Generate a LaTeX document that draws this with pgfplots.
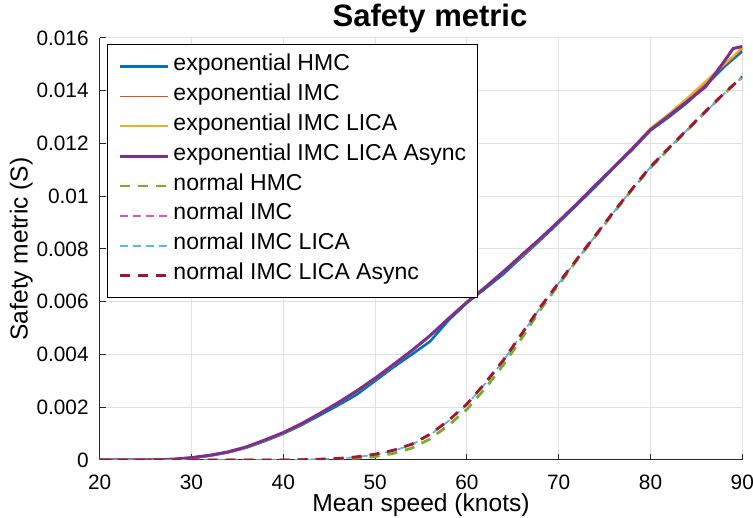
\documentclass[border=0pt]{standalone}
\usepackage{fontspec}
\setmainfont{Liberation Sans}
\usepackage{pgfplots}
\usepackage{pgfplotstable}
\pgfplotsset{compat=1.18}

\definecolor{mblue}{rgb}{0,0.447,0.741}
\definecolor{morange}{rgb}{0.85,0.325,0.098}
\definecolor{myellow}{rgb}{0.929,0.694,0.125}
\definecolor{mpurple}{rgb}{0.494,0.184,0.556}
\definecolor{mgreen}{rgb}{0.466,0.674,0.188}
\definecolor{mpink}{rgb}{0.86,0.36,0.62}
\definecolor{mcyan}{rgb}{0.301,0.745,0.933}
\definecolor{mred}{rgb}{0.635,0.078,0.184}

% exponential distribution runs
\pgfplotstableread{
x hmc imc lica async
20 0 0 0 0
22 0 0 0 0
24 0 0 0 0
26 0.00001 0.00001 0.00001 0.00001
28 0.00003 0.00003 0.00003 0.00003
30 0.00008 0.00008 0.00008 0.00009
32 0.00016 0.00017 0.00017 0.00018
34 0.00029 0.00030 0.00030 0.00031
36 0.00047 0.00048 0.00048 0.00050
38 0.00072 0.00074 0.00074 0.00076
40 0.00100 0.00102 0.00102 0.00104
42 0.00133 0.00136 0.00137 0.00138
44 0.00170 0.00175 0.00176 0.00177
46 0.00208 0.00215 0.00217 0.00218
48 0.00248 0.00258 0.00260 0.00262
50 0.00300 0.00306 0.00308 0.00310
52 0.00352 0.00358 0.00360 0.00362
54 0.00400 0.00412 0.00414 0.00415
56 0.00450 0.00470 0.00472 0.00472
58 0.00530 0.00538 0.00538 0.00536
60 0.00596 0.00600 0.00600 0.00598
62 0.00650 0.00653 0.00655 0.00655
64 0.00706 0.00712 0.00714 0.00715
66 0.00770 0.00772 0.00775 0.00778
68 0.00834 0.00836 0.00838 0.00840
70 0.00900 0.00902 0.00904 0.00905
72 0.00968 0.00970 0.00972 0.00972
74 0.01036 0.01040 0.01042 0.01042
76 0.01108 0.01110 0.01112 0.01110
78 0.01176 0.01180 0.01182 0.01180
80 0.01250 0.01255 0.01258 0.01252
82 0.01300 0.01308 0.01312 0.01305
84 0.01355 0.01365 0.01372 0.01360
86 0.01420 0.01430 0.01435 0.01415
88 0.01490 0.01495 0.01500 0.01510
89 0.01520 0.01525 0.01530 0.01560
90 0.01550 0.01560 0.01565 0.01568
}\expdata

% normal distribution runs
\pgfplotstableread{
x hmc imc lica async
20 0 0 0 0
24 0 0 0 0
28 0 0 0 0
32 0 0 0 0
36 0 0 0 0
40 0 0 0 0
42 0.00001 0.00001 0.00001 0.00001
44 0.00002 0.00003 0.00003 0.00003
46 0.00004 0.00006 0.00006 0.00006
48 0.00007 0.00011 0.00011 0.00012
50 0.00013 0.00020 0.00020 0.00022
52 0.00025 0.00035 0.00035 0.00037
54 0.00045 0.00058 0.00058 0.00060
56 0.00080 0.00095 0.00095 0.00098
58 0.00132 0.00148 0.00148 0.00150
60 0.00192 0.00210 0.00210 0.00212
62 0.00272 0.00290 0.00290 0.00292
64 0.00362 0.00378 0.00378 0.00380
66 0.00463 0.00478 0.00478 0.00480
68 0.00570 0.00578 0.00578 0.00580
70 0.00665 0.00670 0.00670 0.00672
72 0.00758 0.00760 0.00760 0.00762
74 0.00848 0.00850 0.00850 0.00852
76 0.00938 0.00940 0.00940 0.00942
78 0.01025 0.01028 0.01028 0.01028
80 0.01108 0.01110 0.01110 0.01112
82 0.01180 0.01182 0.01182 0.01183
84 0.01250 0.01252 0.01252 0.01253
86 0.01320 0.01320 0.01320 0.01322
88 0.01388 0.01388 0.01388 0.01390
90 0.01452 0.01452 0.01452 0.01453
}\normdata

\begin{document}
\begin{tikzpicture}
\begin{axis}[
    scale only axis,
    width=321.3pt, height=211pt,
    xmin=20, xmax=90, ymin=0, ymax=0.016,
    axis x line=bottom, axis y line=left,
    axis line style={-, line width=0.5pt, black!85},
    xtick={20,30,40,50,60,70,80,90},
    ytick={0,0.002,0.004,0.006,0.008,0.01,0.012,0.014,0.016},
    yticklabels={0,0.002,0.004,0.006,0.008,0.01,0.012,0.014,0.016},
    scaled y ticks=false,
    grid=major,
    grid style={line width=0.5pt, black!12},
    tick align=inside,
    major tick length=3pt,
    tick style={black!85, line width=0.5pt},
    /pgf/number format/assume math mode=true,
    tick label style={font=\fontsize{10.4}{12}\selectfont, inner sep=0pt},
    xticklabel style={anchor=base, yshift=-15pt},
    yticklabel style={anchor=east, xshift=-5.35pt},
    title={Safety metric},
    % the default title style already shifts it up by 6pt
    title style={font=\fontsize{15.5}{18}\selectfont\bfseries, at={(axis description cs:0.5,1)}, anchor=base, yshift=-0.35pt, xshift=4.5pt},
    xlabel={Mean speed (knots)},
    xlabel style={font=\fontsize{12.3}{14}\selectfont, at={(axis description cs:0.5,-0.122)}, anchor=base},
    ylabel={Safety metric (S)},
    ylabel style={font=\fontsize{12.3}{14}\selectfont, at={(axis description cs:-0.112,0.5)}, anchor=base},
    legend cell align=left,
    legend image code/.code={\draw[#1] (0pt,0pt) -- (24pt,0pt);},
    legend style={at={(axis description cs:0,1)}, anchor=north west,
        xshift=3.65pt, yshift=-3pt, draw=black, line width=0.5pt, fill=white,
        inner xsep=5.5pt, inner ysep=3.5pt, row sep=0pt, column sep=2pt,
        font=\fontsize{11.5}{14}\selectfont,
        nodes={inner sep=0pt, text height=9.5pt, text depth=5.45pt}},
]
\addplot[mblue, line width=1.3pt] table[x=x, y=hmc] {\expdata};
\addplot[morange, line width=0.7pt] table[x=x, y=imc] {\expdata};
\addplot[myellow, line width=1.1pt] table[x=x, y=lica] {\expdata};
\addplot[mpurple, line width=1.5pt] table[x=x, y=async] {\expdata};
\addplot[mgreen, line width=1.4pt, dash pattern=on 5pt off 4pt] table[x=x, y=hmc] {\normdata};
\addplot[mpink, line width=0.7pt, dash pattern=on 4pt off 2.5pt] table[x=x, y=imc] {\normdata};
\addplot[mcyan, line width=0.7pt, dash pattern=on 4pt off 2.5pt] table[x=x, y=lica] {\normdata};
\addplot[mred, line width=1.4pt, dash pattern=on 5pt off 4pt] table[x=x, y=async] {\normdata};
\legend{exponential HMC, exponential IMC, exponential IMC LICA, exponential IMC LICA Async,
    normal HMC, normal IMC, normal IMC LICA, normal IMC LICA Async}
\coordinate (LL) at (rel axis cs:0,0);
\coordinate (UR) at (rel axis cs:1,1);
\end{axis}
\pgfresetboundingbox
\path[use as bounding box] ([shift={(-49.85pt,-29pt)}]LL) rectangle ([shift={(5.35pt,19pt)}]UR);
\end{tikzpicture}
\end{document}
